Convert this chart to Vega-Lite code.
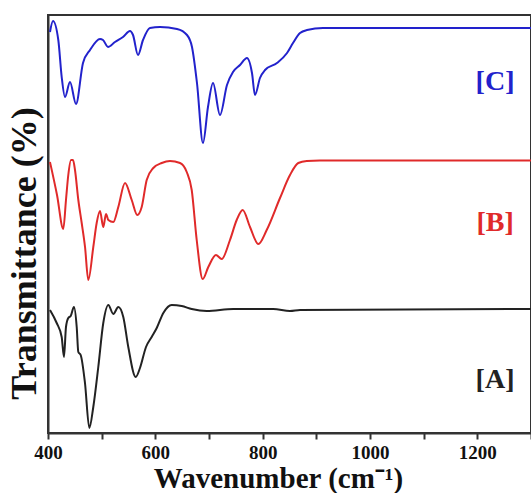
{
  "$schema": "https://vega.github.io/schema/vega-lite/v6.json",
  "width": 483,
  "height": 418,
  "autosize": "none",
  "padding": {"left": 48, "top": 15, "right": 0, "bottom": 60},
  "background": "white",
  "config": {
    "view": {"stroke": "#333", "strokeWidth": 2},
    "axis": {"grid": false}
  },
  "datasets": {
    "spectra": [
      {"series": "C", "wn": 403.7, "t": 401},
      {"series": "C", "wn": 409.3, "t": 412},
      {"series": "C", "wn": 419.2, "t": 393},
      {"series": "C", "wn": 425.5, "t": 356},
      {"series": "C", "wn": 431.7, "t": 336},
      {"series": "C", "wn": 441.0, "t": 351},
      {"series": "C", "wn": 452.2, "t": 329},
      {"series": "C", "wn": 465.2, "t": 370},
      {"series": "C", "wn": 478.3, "t": 383},
      {"series": "C", "wn": 496.9, "t": 394},
      {"series": "C", "wn": 502.5, "t": 393},
      {"series": "C", "wn": 511.8, "t": 386},
      {"series": "C", "wn": 524.8, "t": 391},
      {"series": "C", "wn": 539.8, "t": 396},
      {"series": "C", "wn": 552.8, "t": 402},
      {"series": "C", "wn": 558.4, "t": 398},
      {"series": "C", "wn": 567.7, "t": 378},
      {"series": "C", "wn": 577.0, "t": 393},
      {"series": "C", "wn": 590.0, "t": 405},
      {"series": "C", "wn": 608.7, "t": 406},
      {"series": "C", "wn": 640.4, "t": 404},
      {"series": "C", "wn": 659.0, "t": 398},
      {"series": "C", "wn": 668.3, "t": 386},
      {"series": "C", "wn": 677.6, "t": 350},
      {"series": "C", "wn": 688.8, "t": 290},
      {"series": "C", "wn": 698.1, "t": 326},
      {"series": "C", "wn": 707.5, "t": 350},
      {"series": "C", "wn": 720.5, "t": 318},
      {"series": "C", "wn": 733.5, "t": 348},
      {"series": "C", "wn": 744.7, "t": 361},
      {"series": "C", "wn": 757.8, "t": 368},
      {"series": "C", "wn": 770.8, "t": 375},
      {"series": "C", "wn": 780.1, "t": 360},
      {"series": "C", "wn": 785.7, "t": 338},
      {"series": "C", "wn": 795.0, "t": 355},
      {"series": "C", "wn": 804.4, "t": 363},
      {"series": "C", "wn": 826.7, "t": 370},
      {"series": "C", "wn": 845.4, "t": 380},
      {"series": "C", "wn": 856.5, "t": 390},
      {"series": "C", "wn": 869.6, "t": 400},
      {"series": "C", "wn": 882.6, "t": 403},
      {"series": "C", "wn": 912.4, "t": 405},
      {"series": "C", "wn": 1056, "t": 405},
      {"series": "C", "wn": 1300, "t": 405},

      {"series": "B", "wn": 403.7, "t": 271},
      {"series": "B", "wn": 416.8, "t": 238},
      {"series": "B", "wn": 428.5, "t": 204},
      {"series": "B", "wn": 433.5, "t": 233},
      {"series": "B", "wn": 437.8, "t": 258},
      {"series": "B", "wn": 442.9, "t": 273},
      {"series": "B", "wn": 446.6, "t": 273},
      {"series": "B", "wn": 450.3, "t": 263},
      {"series": "B", "wn": 456.5, "t": 233},
      {"series": "B", "wn": 462.8, "t": 210},
      {"series": "B", "wn": 469.0, "t": 186},
      {"series": "B", "wn": 475.1, "t": 153},
      {"series": "B", "wn": 484.4, "t": 186},
      {"series": "B", "wn": 490.7, "t": 210},
      {"series": "B", "wn": 496.9, "t": 222},
      {"series": "B", "wn": 503.0, "t": 206},
      {"series": "B", "wn": 508.1, "t": 219},
      {"series": "B", "wn": 512.4, "t": 213},
      {"series": "B", "wn": 521.7, "t": 211},
      {"series": "B", "wn": 531.0, "t": 226},
      {"series": "B", "wn": 543.5, "t": 250},
      {"series": "B", "wn": 556.0, "t": 233},
      {"series": "B", "wn": 566.4, "t": 218},
      {"series": "B", "wn": 574.6, "t": 226},
      {"series": "B", "wn": 583.9, "t": 253},
      {"series": "B", "wn": 596.2, "t": 265},
      {"series": "B", "wn": 611.9, "t": 270},
      {"series": "B", "wn": 627.3, "t": 272},
      {"series": "B", "wn": 646.0, "t": 270},
      {"series": "B", "wn": 658.5, "t": 261},
      {"series": "B", "wn": 667.8, "t": 243},
      {"series": "B", "wn": 677.1, "t": 193},
      {"series": "B", "wn": 688.3, "t": 154},
      {"series": "B", "wn": 698.7, "t": 166},
      {"series": "B", "wn": 713.0, "t": 178},
      {"series": "B", "wn": 723.7, "t": 174},
      {"series": "B", "wn": 739.1, "t": 193},
      {"series": "B", "wn": 751.6, "t": 213},
      {"series": "B", "wn": 762.8, "t": 223},
      {"series": "B", "wn": 776.4, "t": 206},
      {"series": "B", "wn": 791.9, "t": 189},
      {"series": "B", "wn": 807.5, "t": 203},
      {"series": "B", "wn": 832.3, "t": 235},
      {"series": "B", "wn": 850.9, "t": 258},
      {"series": "B", "wn": 866.4, "t": 270},
      {"series": "B", "wn": 882.1, "t": 272},
      {"series": "B", "wn": 906.8, "t": 272.5},
      {"series": "B", "wn": 1300, "t": 272.5},

      {"series": "A", "wn": 403.7, "t": 123},
      {"series": "A", "wn": 416.2, "t": 110},
      {"series": "A", "wn": 425.5, "t": 96},
      {"series": "A", "wn": 429.8, "t": 76},
      {"series": "A", "wn": 433.5, "t": 106},
      {"series": "A", "wn": 437.8, "t": 115},
      {"series": "A", "wn": 442.3, "t": 117},
      {"series": "A", "wn": 448.4, "t": 126},
      {"series": "A", "wn": 453.5, "t": 106},
      {"series": "A", "wn": 456.5, "t": 81},
      {"series": "A", "wn": 460.9, "t": 78},
      {"series": "A", "wn": 468.9, "t": 50},
      {"series": "A", "wn": 477.0, "t": 5},
      {"series": "A", "wn": 484.4, "t": 26},
      {"series": "A", "wn": 493.7, "t": 66},
      {"series": "A", "wn": 503.0, "t": 110},
      {"series": "A", "wn": 512.4, "t": 128},
      {"series": "A", "wn": 521.7, "t": 119},
      {"series": "A", "wn": 531.0, "t": 126},
      {"series": "A", "wn": 540.3, "t": 116},
      {"series": "A", "wn": 549.6, "t": 86},
      {"series": "A", "wn": 563.4, "t": 56},
      {"series": "A", "wn": 571.4, "t": 65},
      {"series": "A", "wn": 582.6, "t": 86},
      {"series": "A", "wn": 593.2, "t": 96},
      {"series": "A", "wn": 602.6, "t": 105},
      {"series": "A", "wn": 614.9, "t": 120},
      {"series": "A", "wn": 630.5, "t": 128},
      {"series": "A", "wn": 649.1, "t": 127},
      {"series": "A", "wn": 667.8, "t": 124},
      {"series": "A", "wn": 695.7, "t": 122},
      {"series": "A", "wn": 745.3, "t": 124},
      {"series": "A", "wn": 819.8, "t": 124},
      {"series": "A", "wn": 850.9, "t": 122},
      {"series": "A", "wn": 869.6, "t": 123},
      {"series": "A", "wn": 1300, "t": 124}
    ],
    "labels": [
      {"series": "C", "label": "[C]", "wn": 1233, "t": 351},
      {"series": "B", "label": "[B]", "wn": 1233, "t": 210},
      {"series": "A", "label": "[A]", "wn": 1233, "t": 53}
    ]
  },
  "layer": [
    {
      "data": {"name": "spectra"},
      "mark": {"type": "line", "interpolate": "monotone", "strokeWidth": 2, "clip": true},
      "encoding": {
        "x": {
          "field": "wn", "type": "quantitative",
          "scale": {"domain": [400, 1300], "nice": false, "zero": false},
          "axis": {
            "title": "Wavenumber (cm⁻¹)",
            "values": [400, 500, 600, 700, 800, 900, 1000, 1100, 1200, 1300],
            "labelExpr": "datum.value % 200 === 0 ? datum.label : ''",
            "format": "d",
            "labelFlush": false,
            "labelOverlap": false,
            "labelBound": false,
            "labelFont": "Liberation Serif",
            "labelFontWeight": "bold",
            "labelFontSize": 19,
            "labelColor": "#111",
            "labelPadding": 4,
            "tickSize": 6,
            "tickWidth": 2,
            "tickColor": "#333",
            "domainColor": "#333",
            "domainWidth": 2,
            "titleFont": "Liberation Serif",
            "titleFontWeight": "bold",
            "titleFontSize": 29,
            "titleColor": "#111",
            "titleX": 230,
            "titleY": 54,
            "titleAlign": "center",
            "titleBaseline": "alphabetic"
          }
        },
        "y": {
          "field": "t", "type": "quantitative",
          "scale": {"domain": [0, 418], "nice": false, "zero": false},
          "axis": {
            "title": "Transmittance (%)",
            "ticks": false,
            "labels": false,
            "domainColor": "#333",
            "domainWidth": 2,
            "titleFont": "Liberation Serif",
            "titleFontWeight": "bold",
            "titleFontSize": 36,
            "titleColor": "#111",
            "titleAngle": -90,
            "titleX": -13,
            "titleY": 238,
            "titleAlign": "center",
            "titleBaseline": "alphabetic"
          }
        },
        "color": {
          "field": "series", "type": "nominal",
          "scale": {"domain": ["A", "B", "C"], "range": ["#222222", "#e02a2a", "#2222cc"]},
          "legend": null
        }
      }
    },
    {
      "data": {"name": "labels"},
      "mark": {"type": "text", "font": "Liberation Serif", "fontWeight": "bold", "fontSize": 28, "align": "center", "baseline": "middle"},
      "encoding": {
        "x": {"field": "wn", "type": "quantitative"},
        "y": {"field": "t", "type": "quantitative"},
        "text": {"field": "label"},
        "color": {"field": "series", "type": "nominal", "legend": null}
      }
    }
  ]
}
